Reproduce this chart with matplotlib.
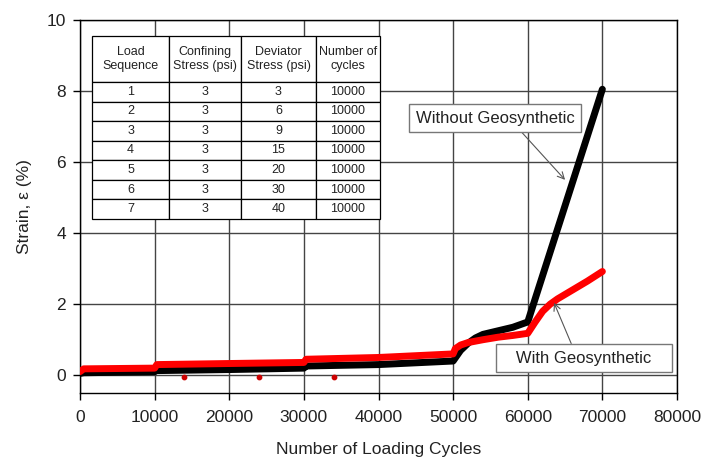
import matplotlib
matplotlib.use("Agg")
import matplotlib.pyplot as plt

plt.rcParams['font.family'] = ['Liberation Sans', 'DejaVu Sans']

# strain readings (%) against loading cycles
cycles_without = [0, 500, 10000, 10200, 20000, 30000, 30300, 40000, 50000, 50500,
                  51000, 52000, 53000, 54000, 56000, 58000, 60000, 70000]
strain_without = [0.05, 0.07, 0.1, 0.13, 0.16, 0.2, 0.26, 0.3, 0.4, 0.55,
                  0.7, 0.9, 1.05, 1.15, 1.25, 1.35, 1.5, 8.05]

cycles_with = [0, 500, 10000, 10300, 20000, 30000, 30300, 40000, 50000, 50300,
               51000, 52000, 54000, 56000, 58000, 60000, 61000, 62000, 63000,
               64000, 66000, 68000, 70000]
strain_with = [0.1, 0.18, 0.2, 0.3, 0.33, 0.36, 0.45, 0.5, 0.6, 0.75,
               0.85, 0.92, 1.0, 1.07, 1.12, 1.18, 1.5, 1.8, 2.0,
               2.15, 2.4, 2.65, 2.92]

# stray low readings of the reinforced sample
stray_cycles = [14000, 24000, 34000]
stray_strain = [-0.04, -0.04, -0.04]

# loading sequence table
table_header = ['Load\nSequence', 'Confining\nStress (psi)', 'Deviator\nStress (psi)', 'Number of\ncycles']
load_seq = ['1', '2', '3', '4', '5', '6', '7']
confining = ['3', '3', '3', '3', '3', '3', '3']
deviator = ['3', '6', '9', '15', '20', '30', '40']
n_cycles = ['10000', '10000', '10000', '10000', '10000', '10000', '10000']

x_ticks = [0, 10000, 20000, 30000, 40000, 50000, 60000, 70000, 80000]
y_ticks = [0, 2, 4, 6, 8, 10]

fig = plt.figure(figsize=(7.16, 4.59), dpi=100)
ax = fig.add_axes([80 / 716, 1 - 393 / 459, 597 / 716, 373 / 459])

ax.plot(cycles_without, strain_without, color='black', lw=5, solid_capstyle='round', zorder=3)
ax.plot(cycles_with, strain_with, color='#ff0000', lw=5, solid_capstyle='round', zorder=4)
ax.scatter(stray_cycles, stray_strain, s=10, color='#cc0000', zorder=4)

ax.set_xlim(0, 80000)
ax.set_ylim(-0.5, 10)
ax.set_xticks(x_ticks)
ax.set_yticks(y_ticks)
ax.grid(True, color='#444444', lw=1.0)
ax.set_axisbelow(True)
for sp in ax.spines.values():
    sp.set_color('black')
    sp.set_linewidth(1.0)
ax.tick_params(direction='out', length=5, width=1, labelsize=12.5, labelcolor='#222222', pad=5)
ax.tick_params(axis='x', pad=7)

ax.set_xlabel('Number of Loading Cycles', fontsize=12.5, color='#222222')
ax.set_ylabel('Strain, ε (%)', fontsize=12.5, color='#222222')
ax.xaxis.set_label_coords(0.5, -0.132)
ax.yaxis.set_label_coords(-0.08, 0.5)

# table in the upper left corner
rows = [list(r) for r in zip(load_seq, confining, deviator, n_cycles)]
col_w = [77, 72, 75, 64]
tbl = ax.table(cellText=rows, colLabels=table_header, cellLoc='center',
               colWidths=[w / sum(col_w) for w in col_w],
               bbox=[12 / 597, 1 - 199 / 373, 288 / 597, 183 / 373])
tbl.auto_set_font_size(False)
tbl.set_fontsize(9)
tbl.set_zorder(6)
for (r, c), cell in tbl.get_celld().items():
    cell.set_facecolor('white')
    cell.set_edgecolor('black')
    cell.set_linewidth(0.9)
    cell.get_text().set_color('#222222')
    cell.set_height(46 if r == 0 else 19.6)

box = dict(boxstyle='square,pad=0.4', fc='white', ec='#777777', lw=1.0)
arrow = dict(arrowstyle='->', color='#555555', lw=0.8, shrinkA=0, shrinkB=0)

ax.annotate('Without Geosynthetic', xy=(65000, 5.5), xytext=(55610, 7.24),
            fontsize=12, color='#222222', ha='center', va='center', bbox=box,
            arrowprops=dict(arrow, relpos=(0.63, 0.0)), zorder=7)
ax.annotate('   With Geosynthetic   ', xy=(63520, 2.04), xytext=(67540, 0.48),
            fontsize=12, color='#222222', ha='center', va='center', bbox=box,
            arrowprops=dict(arrow, relpos=(0.44, 1.0)), zorder=7)

fig.savefig('out.png', dpi=100)
